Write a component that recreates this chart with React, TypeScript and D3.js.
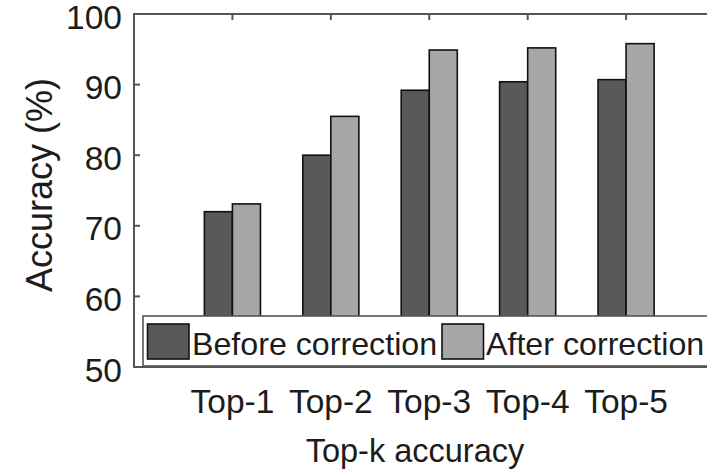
import React from "react";
import * as d3 from "d3";

const categories = ["Top-1", "Top-2", "Top-3", "Top-4", "Top-5"];
const beforeCorrection = [72, 80, 89.2, 90.4, 90.7];
const afterCorrection = [73.1, 85.5, 94.9, 95.2, 95.8];
const yTicks = [50, 60, 70, 80, 90, 100];
const seriesNames = ["Before correction", "After correction"];

const W = 707;
const H = 472;
const FONT = "'Liberation Sans', Arial, Helvetica, sans-serif";
const TEXT = "#1c1c1c";
const AXIS = "#555555";
const DARK = "#595959";
const LIGHT = "#a6a6a6";

export default function App() {
  // x in category units: 1..5 are group centres, frame spans 0..6
  const x = d3.scaleLinear().domain([0, 6]).range([134, 724.5]);
  const y = d3.scaleLinear().domain([50, 100]).range([367, 14]);
  const barW = 0.285;

  const left = x(0);
  const right = x(6);
  const top = y(100);
  const bottom = y(50);

  const series = [
    { name: seriesNames[0], values: beforeCorrection, fill: DARK, offset: -barW },
    { name: seriesNames[1], values: afterCorrection, fill: LIGHT, offset: 0 },
  ];

  return (
    <div style={{ position: "absolute", left: 0, top: 0 }}>
      <svg width={W} height={H} style={{ display: "block", background: "#fff" }}>
        {/* bars */}
        {series.map((s) =>
          s.values.map((v, i) => {
            const x0 = x(i + 1 + s.offset);
            const x1 = x(i + 1 + s.offset + barW);
            return (
              <rect
                key={s.name + i}
                x={x0}
                y={y(v)}
                width={x1 - x0}
                height={bottom - y(v)}
                fill={s.fill}
                stroke="#111"
                strokeWidth={1.6}
              />
            );
          })
        )}

        {/* frame */}
        <rect x={left} y={top} width={right - left} height={bottom - top} fill="none" stroke={AXIS} strokeWidth={2} />

        {/* y ticks and labels */}
        {yTicks.map((t) => (
          <g key={t}>
            {t > 50 && t < 100 && (
              <line x1={left} x2={left + 6} y1={y(t)} y2={y(t)} stroke={AXIS} strokeWidth={2} />
            )}
            <text
              x={122}
              y={y(t) + 14.5}
              textAnchor="end"
              fontFamily={FONT}
              fontSize={33.5}
              fill={TEXT}
            >
              {t}
            </text>
          </g>
        ))}

        {/* top ticks and category labels */}
        {categories.map((c, i) => (
          <g key={c}>
            <line x1={x(i + 1)} x2={x(i + 1)} y1={top} y2={top + 6} stroke={AXIS} strokeWidth={2} />
            <text
              x={x(i + 1)}
              y={413}
              textAnchor="middle"
              fontFamily={FONT}
              fontSize={33.5}
              fill={TEXT}
            >
              {c}
            </text>
          </g>
        ))}

        {/* legend */}
        <rect x={143} y={316} width={600} height={50} fill="#fff" stroke={AXIS} strokeWidth={1.6} />
        <rect x={147.5} y={324} width={41.5} height={35} fill={DARK} stroke="#111" strokeWidth={1.6} />
        <text x={192} y={355} fontFamily={FONT} fontSize={32.2} fill={TEXT}>
          {seriesNames[0]}
        </text>
        <rect x={442} y={324} width={41.5} height={35} fill={LIGHT} stroke="#111" strokeWidth={1.6} />
        <text x={486} y={355} fontFamily={FONT} fontSize={32.2} fill={TEXT}>
          {seriesNames[1]}
        </text>

        {/* axis titles */}
        <text x={415} y={462} textAnchor="middle" fontFamily={FONT} fontSize={32.5} fill={TEXT}>
          Top-k accuracy
        </text>
        <text
          transform="translate(52,185) rotate(-90)"
          textAnchor="middle"
          fontFamily={FONT}
          fontSize={36}
          fill={TEXT}
        >
          Accuracy (%)
        </text>
      </svg>
    </div>
  );
}
